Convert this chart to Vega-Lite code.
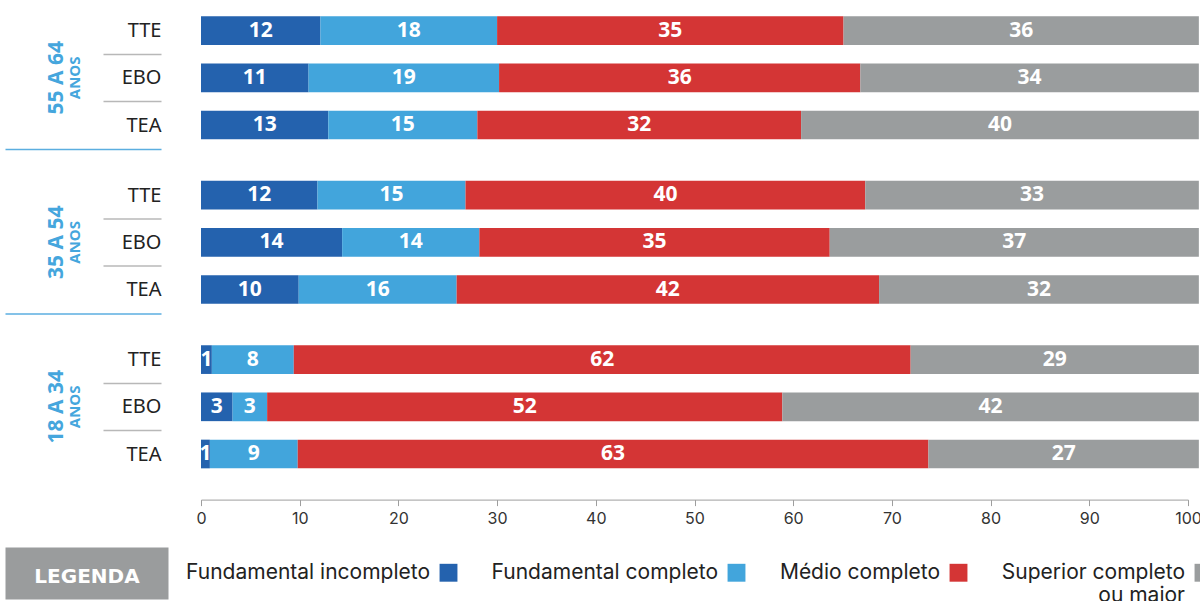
{
  "$schema": "https://vega.github.io/schema/vega-lite/v6.json",
  "padding": {"left": -21, "top": 7, "right": 0, "bottom": 0},
  "autosize": {"type": "pad"},
  "background": "white",
  "data": {"values": [
    {"g": "55 A 64", "r": "TTE", "n": "Fundamental incompleto", "o": 1, "v": 12.1, "t": "12"},
    {"g": "55 A 64", "r": "TTE", "n": "Fundamental completo", "o": 2, "v": 17.9, "t": "18"},
    {"g": "55 A 64", "r": "TTE", "n": "Médio completo", "o": 3, "v": 35.1, "t": "35"},
    {"g": "55 A 64", "r": "TTE", "n": "Superior completo ou maior", "o": 4, "v": 36.0, "t": "36"},
    {"g": "55 A 64", "r": "EBO", "n": "Fundamental incompleto", "o": 1, "v": 10.9, "t": "11"},
    {"g": "55 A 64", "r": "EBO", "n": "Fundamental completo", "o": 2, "v": 19.3, "t": "19"},
    {"g": "55 A 64", "r": "EBO", "n": "Médio completo", "o": 3, "v": 36.6, "t": "36"},
    {"g": "55 A 64", "r": "EBO", "n": "Superior completo ou maior", "o": 4, "v": 34.3, "t": "34"},
    {"g": "55 A 64", "r": "TEA", "n": "Fundamental incompleto", "o": 1, "v": 12.9, "t": "13"},
    {"g": "55 A 64", "r": "TEA", "n": "Fundamental completo", "o": 2, "v": 15.1, "t": "15"},
    {"g": "55 A 64", "r": "TEA", "n": "Médio completo", "o": 3, "v": 32.8, "t": "32"},
    {"g": "55 A 64", "r": "TEA", "n": "Superior completo ou maior", "o": 4, "v": 40.3, "t": "40"},
    {"g": "35 A 54", "r": "TTE", "n": "Fundamental incompleto", "o": 1, "v": 11.8, "t": "12"},
    {"g": "35 A 54", "r": "TTE", "n": "Fundamental completo", "o": 2, "v": 15.0, "t": "15"},
    {"g": "35 A 54", "r": "TTE", "n": "Médio completo", "o": 3, "v": 40.5, "t": "40"},
    {"g": "35 A 54", "r": "TTE", "n": "Superior completo ou maior", "o": 4, "v": 33.8, "t": "33"},
    {"g": "35 A 54", "r": "EBO", "n": "Fundamental incompleto", "o": 1, "v": 14.3, "t": "14"},
    {"g": "35 A 54", "r": "EBO", "n": "Fundamental completo", "o": 2, "v": 13.9, "t": "14"},
    {"g": "35 A 54", "r": "EBO", "n": "Médio completo", "o": 3, "v": 35.5, "t": "35"},
    {"g": "35 A 54", "r": "EBO", "n": "Superior completo ou maior", "o": 4, "v": 37.4, "t": "37"},
    {"g": "35 A 54", "r": "TEA", "n": "Fundamental incompleto", "o": 1, "v": 9.9, "t": "10"},
    {"g": "35 A 54", "r": "TEA", "n": "Fundamental completo", "o": 2, "v": 16.0, "t": "16"},
    {"g": "35 A 54", "r": "TEA", "n": "Médio completo", "o": 3, "v": 42.8, "t": "42"},
    {"g": "35 A 54", "r": "TEA", "n": "Superior completo ou maior", "o": 4, "v": 32.4, "t": "32"},
    {"g": "18 A 34", "r": "TTE", "n": "Fundamental incompleto", "o": 1, "v": 1.1, "t": "1"},
    {"g": "18 A 34", "r": "TTE", "n": "Fundamental completo", "o": 2, "v": 8.3, "t": "8"},
    {"g": "18 A 34", "r": "TTE", "n": "Médio completo", "o": 3, "v": 62.5, "t": "62"},
    {"g": "18 A 34", "r": "TTE", "n": "Superior completo ou maior", "o": 4, "v": 29.2, "t": "29"},
    {"g": "18 A 34", "r": "EBO", "n": "Fundamental incompleto", "o": 1, "v": 3.2, "t": "3"},
    {"g": "18 A 34", "r": "EBO", "n": "Fundamental completo", "o": 2, "v": 3.5, "t": "3"},
    {"g": "18 A 34", "r": "EBO", "n": "Médio completo", "o": 3, "v": 52.2, "t": "52"},
    {"g": "18 A 34", "r": "EBO", "n": "Superior completo ou maior", "o": 4, "v": 42.2, "t": "42"},
    {"g": "18 A 34", "r": "TEA", "n": "Fundamental incompleto", "o": 1, "v": 0.9, "t": "1"},
    {"g": "18 A 34", "r": "TEA", "n": "Fundamental completo", "o": 2, "v": 8.9, "t": "9"},
    {"g": "18 A 34", "r": "TEA", "n": "Médio completo", "o": 3, "v": 63.9, "t": "63"},
    {"g": "18 A 34", "r": "TEA", "n": "Superior completo ou maior", "o": 4, "v": 27.4, "t": "27"}
  ]},
  "config": {
    "view": {"stroke": null},
    "title": {"orient": "left", "anchor": "middle", "offset": -79, "font": "Open Sans", "fontSize": 21, "fontWeight": "bold", "color": "#45a6dd", "subtitleFont": "Open Sans", "subtitleFontSize": 15, "subtitleFontWeight": "bold", "subtitleColor": "#45a6dd", "subtitlePadding": 1},
    "axisY": {"labelFont": "Noto Sans", "labelFontSize": 20, "labelColor": "#222222"}
  },
  "resolve": {"scale": {"color": "shared"}, "legend": {"color": "shared"}},
  "columns": 1,
  "spacing": 20,
  "concat": [
    {
      "spacing": 21.5,
      "vconcat": [
        {
          "width": 987, "height": 141.6,
          "transform": [{"filter": "datum.g === '55 A 64'"}],
          "title": {"text": "55 A 64", "subtitle": "ANOS"},
          "encoding": {
            "y": {"field": "r", "type": "nominal", "sort": ["TTE", "EBO", "TEA"], "scale": {"paddingInner": 0.392, "paddingOuter": 0.196},
              "axis": {"title": null, "domain": false, "offset": 40, "bandPosition": 1, "tickOffset": 9.25, "labelOffset": -9.25, "tickWidth": 1.5,
                "tickColor": {"condition": {"test": "datum.value === 'TEA'", "value": "#5baee0"}, "value": "#b8b8b8"},
                "tickSize": {"condition": {"test": "datum.value === 'TEA'", "value": 156}, "value": 58},
                "labelPadding": {"condition": {"test": "datum.value === 'TEA'", "value": -156}, "value": -58}}},
            "x": {"field": "v", "type": "quantitative", "stack": "zero", "scale": {"domain": [0, 100], "nice": false}, "axis": null},
            "order": {"field": "o"}
          },
          "layer": [
            {"mark": {"type": "bar"}, "encoding": {"color": {"field": "n", "type": "nominal", "scale": {"domain": ["Fundamental incompleto", "Fundamental completo", "Médio completo", "Superior completo ou maior"], "range": ["#2462ae", "#42a5dc", "#d43535", "#9a9d9e"]}}}},
            {"mark": {"type": "text", "color": "white", "font": "Open Sans", "fontSize": 21, "fontWeight": "bold", "baseline": "middle", "align": "center"},
              "encoding": {"x": {"field": "v", "type": "quantitative", "stack": "zero", "bandPosition": 0.5}, "detail": {"field": "n"}, "text": {"field": "t"}}}
          ]
        },
        {
          "width": 987, "height": 141.6,
          "transform": [{"filter": "datum.g === '35 A 54'"}],
          "title": {"text": "35 A 54", "subtitle": "ANOS"},
          "encoding": {
            "y": {"field": "r", "type": "nominal", "sort": ["TTE", "EBO", "TEA"], "scale": {"paddingInner": 0.392, "paddingOuter": 0.196},
              "axis": {"title": null, "domain": false, "offset": 40, "bandPosition": 1, "tickOffset": 9.25, "labelOffset": -9.25, "tickWidth": 1.5,
                "tickColor": {"condition": {"test": "datum.value === 'TEA'", "value": "#5baee0"}, "value": "#b8b8b8"},
                "tickSize": {"condition": {"test": "datum.value === 'TEA'", "value": 156}, "value": 58},
                "labelPadding": {"condition": {"test": "datum.value === 'TEA'", "value": -156}, "value": -58}}},
            "x": {"field": "v", "type": "quantitative", "stack": "zero", "scale": {"domain": [0, 100], "nice": false}, "axis": null},
            "order": {"field": "o"}
          },
          "layer": [
            {"mark": {"type": "bar"}, "encoding": {"color": {"field": "n", "type": "nominal", "scale": {"domain": ["Fundamental incompleto", "Fundamental completo", "Médio completo", "Superior completo ou maior"], "range": ["#2462ae", "#42a5dc", "#d43535", "#9a9d9e"]}}}},
            {"mark": {"type": "text", "color": "white", "font": "Open Sans", "fontSize": 21, "fontWeight": "bold", "baseline": "middle", "align": "center"},
              "encoding": {"x": {"field": "v", "type": "quantitative", "stack": "zero", "bandPosition": 0.5}, "detail": {"field": "n"}, "text": {"field": "t"}}}
          ]
        },
        {
          "width": 987, "height": 141.6,
          "transform": [{"filter": "datum.g === '18 A 34'"}],
          "title": {"text": "18 A 34", "subtitle": "ANOS"},
          "encoding": {
            "y": {"field": "r", "type": "nominal", "sort": ["TTE", "EBO", "TEA"], "scale": {"paddingInner": 0.392, "paddingOuter": 0.196},
              "axis": {"title": null, "domain": false, "offset": 40, "bandPosition": 1, "tickOffset": 9.25, "labelOffset": -9.25, "tickWidth": 1.5,
                "tickColor": {"condition": {"test": "datum.value === 'TEA'", "value": "transparent"}, "value": "#b8b8b8"},
                "tickSize": {"condition": {"test": "datum.value === 'TEA'", "value": 156}, "value": 58},
                "labelPadding": {"condition": {"test": "datum.value === 'TEA'", "value": -156}, "value": -58}}},
            "x": {"field": "v", "type": "quantitative", "stack": "zero", "scale": {"domain": [0, 100], "nice": false},
              "axis": {"title": null, "grid": false, "offset": 22, "values": [0, 10, 20, 30, 40, 50, 60, 70, 80, 90, 100], "domainColor": "#9e9e9e", "tickColor": "#9e9e9e", "tickSize": 6, "labelFlush": false, "labelFont": "Inter", "labelFontSize": 16, "labelColor": "#333333", "labelPadding": 5}},
            "order": {"field": "o"}
          },
          "layer": [
            {"mark": {"type": "bar"}, "encoding": {"color": {"field": "n", "type": "nominal", "scale": {"domain": ["Fundamental incompleto", "Fundamental completo", "Médio completo", "Superior completo ou maior"], "range": ["#2462ae", "#42a5dc", "#d43535", "#9a9d9e"]},
              "legend": {"orient": "none", "legendX": 237, "legendY": 555, "direction": "horizontal", "title": null, "labelFont": "Inter", "labelFontSize": 21, "labelColor": "#222222", "labelLimit": 0, "symbolType": "square", "symbolSize": 320, "symbolStrokeWidth": 0, "labelAlign": "right", "labelOffset": -29, "columnPadding": 33,
                "labelExpr": "datum.label === 'Superior completo ou maior' ? ['Superior completo', 'ou maior'] : [datum.label, '']"}}}},
            {"mark": {"type": "text", "color": "white", "font": "Open Sans", "fontSize": 21, "fontWeight": "bold", "baseline": "middle", "align": "center"},
              "encoding": {"x": {"field": "v", "type": "quantitative", "stack": "zero", "bandPosition": 0.5}, "detail": {"field": "n"}, "text": {"field": "t"}}}
          ]
        }
      ]
    },
    {
      "width": 10, "height": 52,
      "data": {"values": [{"l": "LEGENDA"}]},
      "mark": {"type": "point", "opacity": 0},
      "encoding": {
        "y": {"field": "l", "type": "nominal", "scale": {"type": "band", "paddingInner": 0, "paddingOuter": 0},
          "axis": {"title": null, "domain": false, "offset": 33, "tickSize": 163, "tickWidth": 52, "tickColor": "#9a9c9d", "tickCap": "butt", "labelAlign": "center", "labelBaseline": "middle", "labelPadding": -81.5, "labelColor": "#ffffff", "labelFont": "DejaVu Sans", "labelFontSize": 20, "labelFontWeight": "bold", "labelOffset": 4}}
      }
    }
  ]
}
